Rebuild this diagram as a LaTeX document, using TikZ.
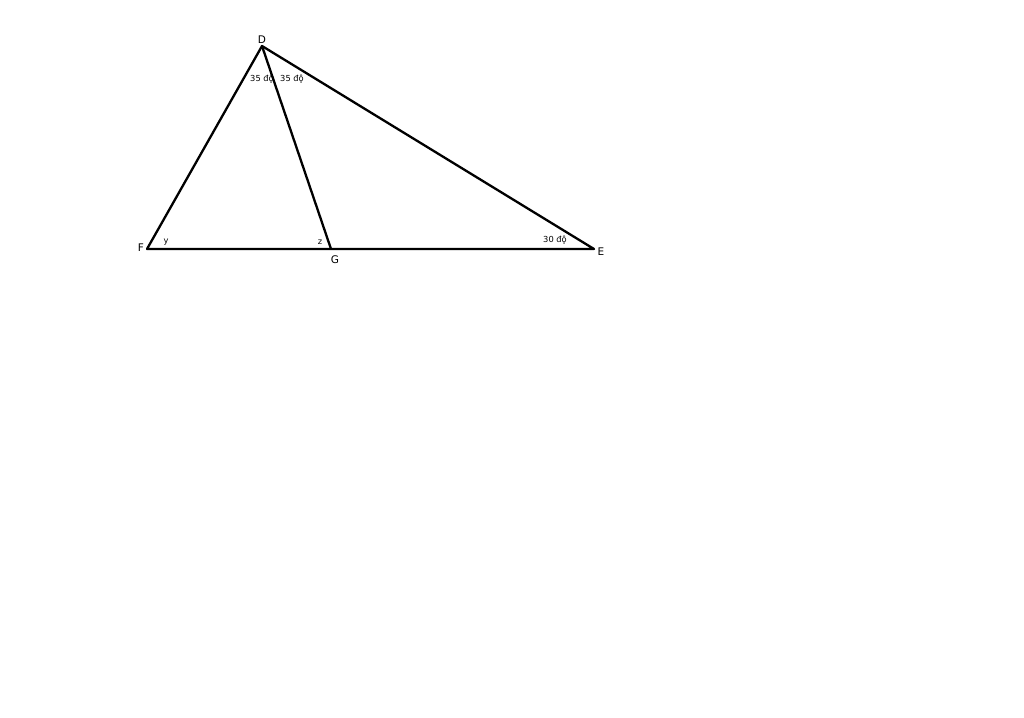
\documentclass[tikz,border=0pt]{standalone}
\usepackage{fontspec}
\setmainfont{DejaVu Sans}
\begin{document}
\begin{tikzpicture}[x=1pt,y=-1pt,
  side/.style={line width=2.3pt,line join=round},
  vlab/.style={font=\fontsize{10.5}{10.5}\selectfont,inner sep=0pt},
  alab/.style={font=\fontsize{8.3}{8.3}\selectfont,inner sep=0pt}]
\useasboundingbox (0,0) rectangle (1024,717);
\fill[white] (0,0) rectangle (1024,717);
\coordinate (D) at (262,46);
\coordinate (F) at (147,249);
\coordinate (G) at (331,249);
\coordinate (E) at (594,249);
\draw[side] (F) -- (D) -- (E) -- cycle;
\draw[side] (D) -- (G);
\node[vlab] (lD) at (262,40) {D};
\node[vlab] (lF) at (141,248) {F};
\node[vlab] (lG) at (335,260) {G};
\node[vlab] (lE) at (601,252) {E};
\node[alab] (a1) at (262,79) {35 độ};
\node[alab] (a2) at (292,79) {35 độ};
\node[alab] (ay) at (166,242) {y};
\node[alab] (az) at (320,242) {z};
\node[alab] (ae) at (555,240) {30 độ};
\end{tikzpicture}
\end{document}
